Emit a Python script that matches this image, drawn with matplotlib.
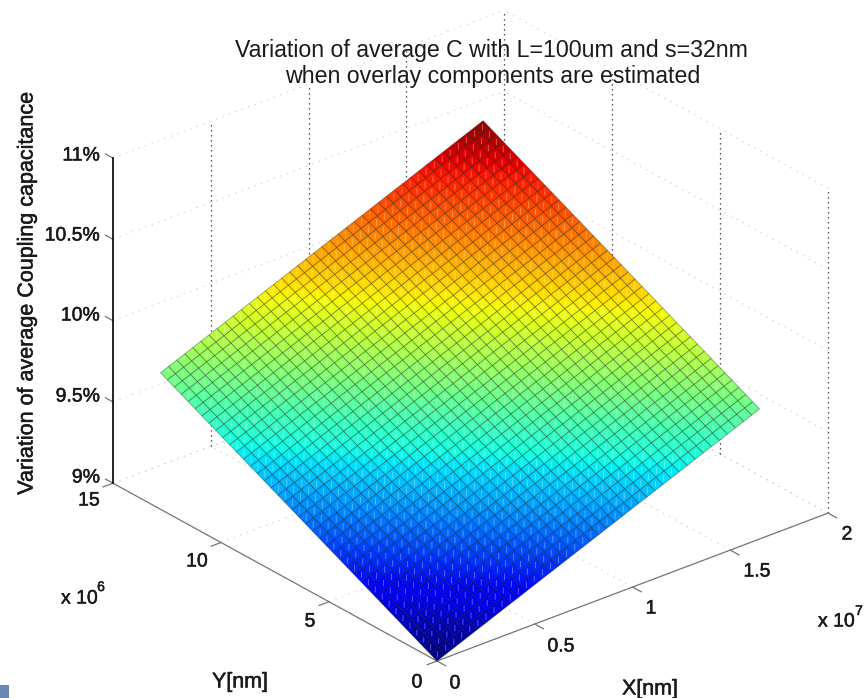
import matplotlib
matplotlib.use("Agg")
import matplotlib.patheffects as pe
import matplotlib.pyplot as plt
import numpy as np
from matplotlib.patches import Rectangle
from mpl_toolkits.mplot3d import proj3d

plt.rcParams["font.family"] = ["Liberation Sans", "DejaVu Sans"]

W, H = 864, 698

# surface grid, units of nm * 1e6
x_values = [0, .41, .83, 1.24, 1.65, 2.06, 2.48, 2.89, 3.3, 3.71, 4.13, 4.54, 4.95, 5.36,
            5.78, 6.19, 6.6, 7.01, 7.43, 7.84, 8.25, 8.66, 9.08, 9.49, 9.9, 10.31, 10.73,
            11.14, 11.55, 11.96, 12.38, 12.79, 13.2, 13.61, 14.03, 14.44, 14.85, 15.26,
            15.68, 16.09, 16.5]
y_values = [0, .32, .64, .96, 1.28, 1.6, 1.92, 2.24, 2.56, 2.88, 3.2, 3.52, 3.84, 4.16,
            4.48, 4.8, 5.12, 5.44, 5.76, 6.08, 6.4, 6.72, 7.04, 7.36, 7.68, 8.0, 8.32,
            8.64, 8.96, 9.28, 9.6, 9.92, 10.24, 10.56, 10.88, 11.2, 11.52, 11.84,
            12.16, 12.48, 12.8]
# percent along Y=0 edge and rise along X=0 edge
z_edge_x = [9.0, 9.02, 9.04, 9.06, 9.08, 9.1, 9.12, 9.14, 9.16, 9.18, 9.2, 9.22, 9.24, 9.26,
            9.28, 9.3, 9.32, 9.34, 9.36, 9.38, 9.4, 9.42, 9.44, 9.46, 9.48, 9.5, 9.52,
            9.54, 9.56, 9.58, 9.6, 9.62, 9.64, 9.66, 9.68, 9.7, 9.72, 9.74,
            9.76, 9.78, 9.8]
z_rise_y = [0, .021, .042, .063, .084, .105, .126, .147, .168, .189, .21, .231, .252, .273,
            .294, .315, .336, .357, .378, .399, .42, .441, .462, .483, .504, .525, .546,
            .567, .588, .609, .63, .651, .672, .693, .714, .735, .756, .777,
            .798, .819, .84]

x_ticks = [0, 5, 10, 15, 20]
y_ticks = [0, 5, 10, 15]
z_ticks = [9, 9.5, 10, 10.5, 11]
z_labels = ["9%", "9.5%", "10%", "10.5%", "11%"]

X_MAX, Y_MAX = 20, 15
Z_MIN, Z_MAX = 9, 11


def fit_axes(ax, fig, start, end):
    # scale and shift the 3d axes so the x axis lands on the wanted pixels
    def to_px(p):
        xs, ys, _ = proj3d.proj_transform(p[0], p[1], p[2], ax.get_proj())
        return ax.transData.transform((xs, ys))

    target0 = np.array([start[0], H - start[1]], float)
    target1 = np.array([end[0], H - end[1]], float)
    left, bottom, side = 0.0, 0.0, 698.0
    for _ in range(3):
        ax.set_position([left / W, bottom / H, side / W, side / H])
        fig.canvas.draw()
        p0, p1 = to_px((0, 0, Z_MIN)), to_px((X_MAX, 0, Z_MIN))
        side *= np.linalg.norm(target1 - target0) / np.linalg.norm(p1 - p0)
        ax.set_position([left / W, bottom / H, side / W, side / H])
        fig.canvas.draw()
        p0 = to_px((0, 0, Z_MIN))
        left += target0[0] - p0[0]
        bottom += target0[1] - p0[1]
    ax.set_position([left / W, bottom / H, side / W, side / H])


fig = plt.figure(figsize=(W / 100, H / 100), dpi=100, facecolor="white")
ax = fig.add_subplot(projection="3d", proj_type="ortho")
ax.set_axis_off()
ax.patch.set_alpha(0)
ax.computed_zorder = False
ax.view_init(elev=27.1, azim=-129.7)
ax.set_xlim(0, X_MAX)
ax.set_ylim(0, Y_MAX)
ax.set_zlim(Z_MIN, Z_MAX)
ax.set_box_aspect((508, 507, 365))

dot_light = dict(color="#d2d2d2", lw=0.9, ls=(0, (1, 4.5)), zorder=1)
dot_dark = dict(color="#222222", lw=0.9, ls=(0, (1, 3)), zorder=2)
axis_line = dict(color="#777777", lw=0.9, zorder=3)

for xt in x_ticks:
    ax.plot([xt, xt], [0, Y_MAX], [Z_MIN, Z_MIN], **dot_light)
    if xt > 0:
        ax.plot([xt, xt], [Y_MAX, Y_MAX], [Z_MIN, Z_MAX], **dot_dark)
    ax.plot([xt, xt], [-0.4, 0], [Z_MIN, Z_MIN], **axis_line)
for yt in y_ticks:
    ax.plot([0, X_MAX], [yt, yt], [Z_MIN, Z_MIN], **dot_light)
    if yt < Y_MAX:
        ax.plot([X_MAX, X_MAX], [yt, yt], [Z_MIN, Z_MAX], **dot_dark)
    ax.plot([-0.5, 0], [yt, yt], [Z_MIN, Z_MIN], **axis_line)
for zt in z_ticks:
    ax.plot([0, X_MAX], [Y_MAX, Y_MAX], [zt, zt], **dot_light)
    ax.plot([X_MAX, X_MAX], [0, Y_MAX], [zt, zt], **dot_light)
    ax.plot([0, 0], [Y_MAX, Y_MAX + 0.35], [zt, zt], **axis_line)

ax.plot([0, X_MAX], [0, 0], [Z_MIN, Z_MIN], **axis_line)
ax.plot([0, 0], [0, Y_MAX], [Z_MIN, Z_MIN], **axis_line)
ax.plot([0, 0], [Y_MAX, Y_MAX], [Z_MIN, Z_MAX], color="black", lw=1.2, zorder=3)

XX, YY = np.meshgrid(x_values, y_values, indexing="ij")
ZZ = np.array(z_edge_x)[:, None] + np.array(z_rise_y)[None, :]
colors = plt.get_cmap("jet")((ZZ - ZZ.min()) / (ZZ.max() - ZZ.min()))
ax.plot_surface(XX, YY, ZZ, facecolors=colors, rstride=1, cstride=1, shade=False,
                edgecolor=(0, 0, 0, 0.32), linewidth=0.65, antialiased=True, zorder=5)

# short pale vertical flecks in the middle of each cell
cx = (XX[:-1, :-1] + XX[1:, 1:]).ravel() / 2
cy = (YY[:-1, :-1] + YY[1:, 1:]).ravel() / 2
cz = (ZZ[:-1, :-1] + ZZ[1:, 1:]).ravel() / 2
nan = np.full_like(cx, np.nan)
ax.plot(np.c_[cx, cx, nan].ravel(), np.c_[cy, cy, nan].ravel(),
        np.c_[cz - 0.016, cz + 0.016, nan].ravel(),
        color="white", alpha=0.35, lw=0.7, zorder=6)

fit_axes(ax, fig, (437, 661), (828, 513))


def label(px, py, text, size=14, ha="center", va="center", stroke=0.35, **kw):
    t = fig.text(px / W, 1 - py / H, text, fontsize=size, ha=ha, va=va, color="#1a1a1a", **kw)
    if stroke:
        t.set_path_effects([pe.withStroke(linewidth=stroke, foreground="#1a1a1a")])


label(491, 50, "Variation of average C with L=100um and s=32nm", size=16.7, stroke=0)
label(493, 76, "when overlay components are estimated", size=16.7, stroke=0)
label(27, 294, "Variation of average Coupling capacitance", size=15.5, rotation=90)

z_label_y = [478, 397, 316, 236, 156]
for zl, py in zip(z_labels, z_label_y):
    label(100, py, zl, ha="right")
for text, px, py in [("15", 89, 501), ("10", 197, 562), ("5", 310, 622), ("0", 417, 683)]:
    label(px, py, text)
for text, px, py in [("0", 455, 684), ("0.5", 561, 647), ("1", 651, 609), ("1.5", 757, 572), ("2", 847, 535)]:
    label(px, py, text)
label(240, 682, "Y[nm]", size=15.4)
label(650, 689, "X[nm]", size=15.4)
label(61, 599, "x 10", ha="left")
label(101, 587, "6", size=10)
label(818, 622, "x 10", ha="left")
label(859, 611, "7", size=10)

fig.add_artist(Rectangle((0, 0), 9 / W, 13 / H, transform=fig.transFigure, color="#6c86b5", lw=0))

fig.savefig("out.png", dpi=100, facecolor="white")
